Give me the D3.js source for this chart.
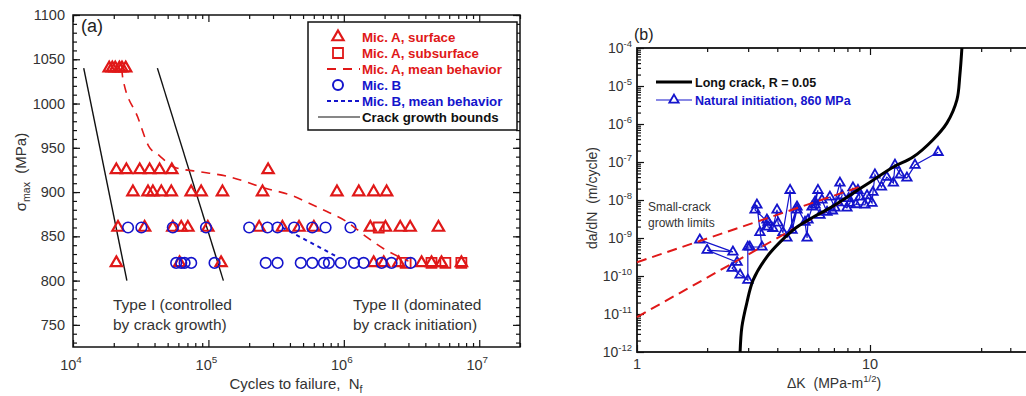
<!DOCTYPE html>
<html>
<head>
<meta charset="utf-8">
<script src="https://cdn.jsdelivr.net/npm/d3@7"></script>
<style>
body { margin: 0; background: #fff; }
text { font-family: "Liberation Sans", Arial, sans-serif; white-space: pre; }
</style>
</head>
<body>
<div id="chart"></div>
<script>
// ---------------- data, panel (a): [cycles to failure, sigma max (MPa)]
var micASurface = [
    [1.85e4, 1040], [1.95e4, 1040], [2.05e4, 1040], [2.2e4, 1040], [2.3e4, 1040], [2.45e4, 1040],
    [2.09e4, 925], [2.48e4, 925], [3.11e4, 925], [3.68e4, 925], [4.36e4, 925], [5.37e4, 925], [2.76e5, 925],
    [2.77e4, 900], [3.58e4, 900], [3.89e4, 900], [4.49e4, 900], [5.32e4, 900], [7.46e4, 900], [8.84e4, 900],
    [1.27e5, 900], [2.51e5, 900], [8.9e5, 900], [1.29e6, 900], [1.66e6, 900], [2.07e6, 900],
    [2.15e4, 860], [3.38e4, 860], [5.46e4, 860], [6.3e4, 860], [7.05e4, 860], [9.9e4, 860], [2.37e5, 860],
    [3.52e5, 860], [4.67e5, 860], [6.01e5, 860], [1.57e6, 860], [2.03e6, 860], [2.61e6, 860], [3.09e6, 860], [5.0e6, 860],
    [2.09e4, 820], [6.12e4, 820], [1.24e5, 820], [1.66e6, 820], [1.97e6, 820], [2.54e6, 820], [3.75e6, 820],
    [4.44e6, 820], [5.26e6, 820], [7.38e6, 820]
];
var micASubsurface = [
    [1.81e6, 860], [2.86e6, 820], [4.44e6, 820], [5.62e6, 820], [7.38e6, 820]
];
var micB = [
    [2.55e4, 860], [3.2e4, 860], [5.46e4, 860], [9.6e4, 860], [2.0e5, 860], [2.73e5, 860], [3.24e5, 860],
    [4.29e5, 860], [5.85e5, 860], [7.33e5, 860], [1.12e6, 860],
    [5.78e4, 820], [6.3e4, 820], [6.67e4, 820], [7.46e4, 820], [1.11e5, 820], [2.65e5, 820], [3.24e5, 820],
    [4.81e5, 820], [5.85e5, 820], [7.13e5, 820], [7.76e5, 820], [9.5e5, 820], [1.19e6, 820], [1.4e6, 820],
    [1.9e6, 820], [2.25e6, 820], [3.11e6, 820]
];
var micAMean = [
    [2.29e4, 1040], [2.33e4, 1029], [3.0e4, 985], [3.62e4, 952], [4.36e4, 941], [5.62e4, 928], [8.6e4, 923],
    [1.36e5, 918], [2.67e5, 904], [4.15e5, 896], [5.26e5, 889], [7.5e5, 878], [1.04e6, 867], [1.45e6, 850],
    [1.97e6, 836], [2.54e6, 827], [3.0e6, 822]
];
var micBMean = [[3.5e5, 860], [5.53e5, 844], [8.9e5, 827]];
var growthBounds = [
    [[1.2e4, 1040], [2.5e4, 800]],
    [[4.2e4, 1040], [1.29e5, 800]]
];
var legendA = [
    {label: "Mic. A, surface", color: "#e01818", kind: "tri"},
    {label: "Mic. A, subsurface", color: "#e01818", kind: "sq"},
    {label: "Mic. A, mean behavior", color: "#e01818", kind: "dash"},
    {label: "Mic. B", color: "#1414cc", kind: "circ"},
    {label: "Mic. B, mean behavior", color: "#1414cc", kind: "dot"},
    {label: "Crack growth bounds", color: "#111", kind: "line"}
];

// ---------------- data, panel (b): [delta K (MPa-m^1/2), da/dN (m/cycle)]
var longCrack = [
    [2.77, 1e-12], [2.82, 4.6e-12], [2.96, 1.95e-11], [3.15, 7.8e-11], [3.61, 3.2e-10], [4.11, 7.8e-10],
    [4.86, 1.95e-9], [5.69, 3.5e-9], [6.74, 6.2e-9], [8.45, 1.5e-8], [10, 2.95e-8], [12.6, 7.4e-8],
    [15.3, 1.35e-7], [18.6, 3.8e-7], [21.4, 1.07e-6], [23.6, 4.3e-6], [24.3, 1.9e-5], [24.8, 1e-4]
];
var naturalInit = [
    [1.86, 8.9e-10], [2.58, 4.3e-10], [2.0, 4.8e-10], [2.69, 2.3e-10], [2.56, 1.6e-10], [2.77, 1.07e-10],
    [2.99, 7.8e-11], [2.99, 5.8e-10], [3.05, 5.8e-10], [3.44, 5.8e-10], [3.27, 7.4e-9], [3.21, 5.5e-9],
    [3.65, 2.6e-9], [3.37, 1.4e-9], [3.61, 3.0e-9], [3.65, 1.95e-9], [3.83, 1.8e-9], [3.99, 5.5e-9],
    [4.03, 2.5e-9], [4.23, 1.4e-9], [4.54, 1.8e-8], [4.63, 1.6e-9], [4.86, 5.5e-9], [4.4, 1.0e-9],
    [4.86, 6.6e-9], [5.26, 2.6e-9], [5.37, 1.0e-9], [5.42, 3.0e-9], [5.98, 1.8e-8], [5.81, 7.4e-9],
    [5.64, 6.6e-9], [5.81, 8.9e-9], [6.1, 4.0e-9], [6.54, 4.8e-9], [6.22, 1.0e-8], [6.73, 1.2e-8],
    [7.08, 6.2e-9], [6.9, 5.2e-9], [7.43, 2.8e-8], [7.59, 1.3e-8], [7.3, 8.5e-9], [7.96, 6.2e-9],
    [8.2, 8.3e-9], [8.45, 2.1e-8], [8.1, 1.1e-8], [8.88, 1.8e-8], [9.06, 1.2e-8], [8.7, 7.6e-9],
    [9.52, 7.4e-9], [9.71, 1.3e-8], [10.2, 8.3e-9], [10.3, 1.6e-8], [10.5, 4.6e-8], [11.2, 2.2e-8],
    [11.8, 4.0e-8], [12.6, 2.8e-8], [12.8, 8.3e-8], [13.5, 4.6e-8], [14.4, 3.8e-8], [15.6, 8.3e-8],
    [19.6, 1.8e-7]
];
var smallCrackLimits = [
    [[1, 2.3e-10], [9.2, 2.3e-8]],
    [[1, 8.3e-12], [7.8, 1.0e-8]]
];

var red = "#e01818", blue = "#1414cc", ink = "#333";

var svg = d3.select("#chart").append("svg")
    .attr("width", 1026)
    .attr("height", 396)
    .style("background", "#fff");

// inward ticks, labels drawn separately
function addAxis(axis, tx, ty) {
    var a = svg.append("g").attr("transform", "translate(" + tx + "," + ty + ")").call(axis);
    a.select(".domain").remove();
    a.selectAll("text").remove();
    a.selectAll("line").attr("stroke", "#111").attr("stroke-width", 1.2);
    return a;
}

function powLabel(x, y, exp, size, anchor) {
    var t = svg.append("text")
        .attr("x", x).attr("y", y)
        .attr("font-size", size)
        .attr("fill", ink)
        .attr("text-anchor", anchor);
    t.append("tspan").text("10");
    t.append("tspan").attr("dy", -size * 0.45).attr("font-size", size * 0.68).text(exp);
}

function minorLog(lo, hi, skip) {
    var out = [];
    for (var e = lo; e < hi; e++) {
        for (var k = 2; k <= 9; k++) {
            var v = k * Math.pow(10, e);
            if (!skip || skip.indexOf(v) < 0) out.push(v);
        }
    }
    return out;
}

// ================= panel (a)
var xA = d3.scaleLog().domain([1e4, 2e7]).range([73, 520]);
var yA = d3.scaleLinear().domain([725, 1100]).range([347, 15]);

var xMajA = [1e4, 1e5, 1e6, 1e7];
var xMinA = minorLog(4, 7).concat([2e7]);
var yMajA = d3.range(750, 1101, 50);
var yMinA = d3.range(730, 1101, 10);

addAxis(d3.axisBottom(xA).tickValues(xMinA).tickSize(-4), 0, 347);
addAxis(d3.axisBottom(xA).tickValues(xMajA).tickSize(-7), 0, 347);
addAxis(d3.axisTop(xA).tickValues(xMinA).tickSize(-4), 0, 15);
addAxis(d3.axisTop(xA).tickValues(xMajA).tickSize(-7), 0, 15);
addAxis(d3.axisLeft(yA).tickValues(yMinA).tickSize(-4), 73, 0);
addAxis(d3.axisLeft(yA).tickValues(yMajA).tickSize(-7), 73, 0);
addAxis(d3.axisRight(yA).tickValues(yMinA).tickSize(-4), 520, 0);
addAxis(d3.axisRight(yA).tickValues(yMajA).tickSize(-7), 520, 0);

svg.append("rect")
    .attr("x", 73).attr("y", 15)
    .attr("width", 520 - 73).attr("height", 347 - 15)
    .attr("fill", "none").attr("stroke", "#111").attr("stroke-width", 1.5);

yMajA.forEach(function (v) {
    svg.append("text")
        .attr("x", 65).attr("y", yA(v) + 5)
        .attr("text-anchor", "end")
        .attr("font-size", 14.5)
        .attr("fill", ink)
        .text(v);
});
xMajA.forEach(function (v) {
    powLabel(xA(v) - 2, 370, Math.round(Math.log10(v)), 14.5, "middle");
});

// axis titles
var yt = svg.append("text")
    .attr("transform", "translate(26,172) rotate(-90)")
    .attr("text-anchor", "middle")
    .attr("font-size", 15)
    .attr("fill", ink);
yt.append("tspan").text("σ");
yt.append("tspan").attr("dy", 4).attr("font-size", 10.5).text("max");
yt.append("tspan").attr("dy", -4).text("  (MPa)");

var xt = svg.append("text")
    .attr("x", 296).attr("y", 389)
    .attr("text-anchor", "middle")
    .attr("font-size", 15)
    .attr("fill", ink);
xt.append("tspan").text("Cycles to failure,  N");
xt.append("tspan").attr("dy", 4).attr("font-size", 10.5).text("f");

svg.append("text").attr("x", 81).attr("y", 32).attr("font-size", 18).attr("fill", "#222").text("(a)");

[["Type I (controlled", "by crack growth)", 113], ["Type II (dominated", "by crack initiation)", 353]].forEach(function (d) {
    svg.append("text").attr("x", d[2]).attr("y", 310).attr("font-size", 15.5).attr("fill", ink).text(d[0]);
    svg.append("text").attr("x", d[2]).attr("y", 330).attr("font-size", 15.5).attr("fill", ink).text(d[1]);
});

var lineA = d3.line()
    .x(function (d) { return xA(d[0]); })
    .y(function (d) { return yA(d[1]); });

growthBounds.forEach(function (b) {
    svg.append("path").attr("d", lineA(b)).attr("fill", "none").attr("stroke", "#111").attr("stroke-width", 1.4);
});

var tri = d3.symbol().type(d3.symbolTriangle).size(55);
var sq = d3.symbol().type(d3.symbolSquare).size(100);

svg.append("g").selectAll("path")
    .data(micASurface).enter().append("path")
    .attr("d", tri)
    .attr("transform", function (d) { return "translate(" + xA(d[0]) + "," + yA(d[1]) + ")"; })
    .attr("fill", "none").attr("stroke", red).attr("stroke-width", 2.2);

svg.append("g").selectAll("path")
    .data(micASubsurface).enter().append("path")
    .attr("d", sq)
    .attr("transform", function (d) { return "translate(" + xA(d[0]) + "," + yA(d[1]) + ")"; })
    .attr("fill", "none").attr("stroke", red).attr("stroke-width", 1.8);

svg.append("g").selectAll("circle")
    .data(micB).enter().append("circle")
    .attr("cx", function (d) { return xA(d[0]); })
    .attr("cy", function (d) { return yA(d[1]); })
    .attr("r", 5.3)
    .attr("fill", "none").attr("stroke", blue).attr("stroke-width", 1.6);

svg.append("path").attr("d", lineA.curve(d3.curveMonotoneX)(micAMean))
    .attr("fill", "none").attr("stroke", red).attr("stroke-width", 1.6).attr("stroke-dasharray", "9,7");
svg.append("path").attr("d", d3.line().x(function (d) { return xA(d[0]); }).y(function (d) { return yA(d[1]); })(micBMean))
    .attr("fill", "none").attr("stroke", blue).attr("stroke-width", 2).attr("stroke-dasharray", "4,4");

// legend (a)
svg.append("rect").attr("x", 308).attr("y", 22).attr("width", 209).attr("height", 108)
    .attr("fill", "#fff").attr("stroke", "#111").attr("stroke-width", 1.5);
legendA.forEach(function (d, i) {
    var y = 37 + i * 16;
    var g = svg.append("g");
    if (d.kind === "tri") {
        g.append("path").attr("d", tri).attr("transform", "translate(338," + y + ")")
            .attr("fill", "none").attr("stroke", d.color).attr("stroke-width", 2.2);
    } else if (d.kind === "sq") {
        g.append("path").attr("d", sq).attr("transform", "translate(338," + y + ")")
            .attr("fill", "none").attr("stroke", d.color).attr("stroke-width", 1.8);
    } else if (d.kind === "circ") {
        g.append("circle").attr("cx", 338).attr("cy", y).attr("r", 5)
            .attr("fill", "none").attr("stroke", d.color).attr("stroke-width", 2);
    } else {
        g.append("line").attr("x1", d.kind === "line" ? 318 : 327).attr("x2", 360).attr("y1", y).attr("y2", y)
            .attr("stroke", d.color)
            .attr("stroke-width", d.kind === "line" ? 1.2 : 2)
            .attr("stroke-dasharray", d.kind === "dash" ? "9,7" : d.kind === "dot" ? "4,3" : null);
    }
    g.append("text").attr("x", 362).attr("y", y + 5)
        .attr("font-size", 13.3).attr("font-weight", "bold")
        .attr("fill", d.color).text(d.label);
});

// ================= panel (b)
var xB = d3.scaleLog().domain([1, 100]).range([637, 1103]);
var yB = d3.scaleLog().domain([1e-12, 1e-4]).range([352, 48]);

var xMajB = [1, 10, 100];
var xMinB = minorLog(0, 2, [20]);
var yMajB = d3.range(-12, -3).map(function (e) { return Math.pow(10, e); });
var yMinB = minorLog(-12, -4);

addAxis(d3.axisBottom(xB).tickValues(xMinB).tickSize(-4), 0, 352);
addAxis(d3.axisBottom(xB).tickValues(xMajB).tickSize(-7), 0, 352);
addAxis(d3.axisTop(xB).tickValues(xMinB).tickSize(-4), 0, 48);
addAxis(d3.axisTop(xB).tickValues(xMajB).tickSize(-7), 0, 48);
addAxis(d3.axisLeft(yB).tickValues(yMinB).tickSize(-4), 637, 0);
addAxis(d3.axisLeft(yB).tickValues(yMajB).tickSize(-7), 637, 0);

svg.append("rect")
    .attr("x", 637).attr("y", 48)
    .attr("width", 1103 - 637).attr("height", 352 - 48)
    .attr("fill", "none").attr("stroke", "#111").attr("stroke-width", 1.8);

yMajB.forEach(function (v) {
    powLabel(632, yB(v) + 5, Math.round(Math.log10(v)), 14, "end");
});
svg.append("text").attr("x", 637).attr("y", 369).attr("text-anchor", "middle")
    .attr("font-size", 14.5).attr("fill", ink).text("1");
svg.append("text").attr("x", xB(10)).attr("y", 369).attr("text-anchor", "middle")
    .attr("font-size", 14.5).attr("fill", ink).text("10");

svg.append("text").attr("x", 634).attr("y", 40).attr("font-size", 16).attr("fill", "#222").text("(b)");

svg.append("text")
    .attr("transform", "translate(597,198) rotate(-90)")
    .attr("text-anchor", "middle")
    .attr("font-size", 14)
    .attr("fill", ink)
    .text("da/dN  (m/cycle)");

var xtb = svg.append("text")
    .attr("x", 787).attr("y", 388)
    .attr("font-size", 14)
    .attr("fill", ink);
xtb.append("tspan").text("ΔK  (MPa-m");
xtb.append("tspan").attr("dy", -6).attr("font-size", 9.5).text("1/2");
xtb.append("tspan").attr("dy", 6).text(")");

svg.append("text").attr("x", 648).attr("y", 211).attr("font-size", 12).attr("fill", ink).text("Small-crack");
svg.append("text").attr("x", 648).attr("y", 227).attr("font-size", 12).attr("fill", ink).text("growth limits");

var lineB = d3.line()
    .x(function (d) { return xB(d[0]); })
    .y(function (d) { return yB(d[1]); });

svg.append("path").attr("d", lineB(naturalInit))
    .attr("fill", "none").attr("stroke", blue).attr("stroke-width", 1.2);
svg.append("g").selectAll("path")
    .data(naturalInit).enter().append("path")
    .attr("d", d3.symbol().type(d3.symbolTriangle).size(38))
    .attr("transform", function (d) { return "translate(" + xB(d[0]) + "," + yB(d[1]) + ")"; })
    .attr("fill", "none").attr("stroke", blue).attr("stroke-width", 1.8);

smallCrackLimits.forEach(function (l) {
    svg.append("path").attr("d", lineB(l))
        .attr("fill", "none").attr("stroke", red).attr("stroke-width", 2).attr("stroke-dasharray", "10,6");
});

svg.append("path").attr("d", d3.line()
        .x(function (d) { return xB(d[0]); })
        .y(function (d) { return yB(d[1]); })
        .curve(d3.curveCatmullRom)(longCrack))
    .attr("fill", "none").attr("stroke", "#000").attr("stroke-width", 3);

// legend (b)
svg.append("line").attr("x1", 656).attr("x2", 692).attr("y1", 82).attr("y2", 82)
    .attr("stroke", "#000").attr("stroke-width", 3);
svg.append("text").attr("x", 695).attr("y", 86.5).attr("font-size", 12.5).attr("font-weight", "bold")
    .attr("fill", "#111").text("Long crack, R = 0.05");
svg.append("line").attr("x1", 656).attr("x2", 692).attr("y1", 100).attr("y2", 100)
    .attr("stroke", blue).attr("stroke-width", 1.2);
svg.append("path").attr("d", d3.symbol().type(d3.symbolTriangle).size(38))
    .attr("transform", "translate(674,100)")
    .attr("fill", "#fff").attr("stroke", blue).attr("stroke-width", 1.8);
svg.append("text").attr("x", 695).attr("y", 104.5).attr("font-size", 12.5).attr("font-weight", "bold")
    .attr("fill", blue).text("Natural initiation, 860 MPa");
</script>
</body>
</html>
